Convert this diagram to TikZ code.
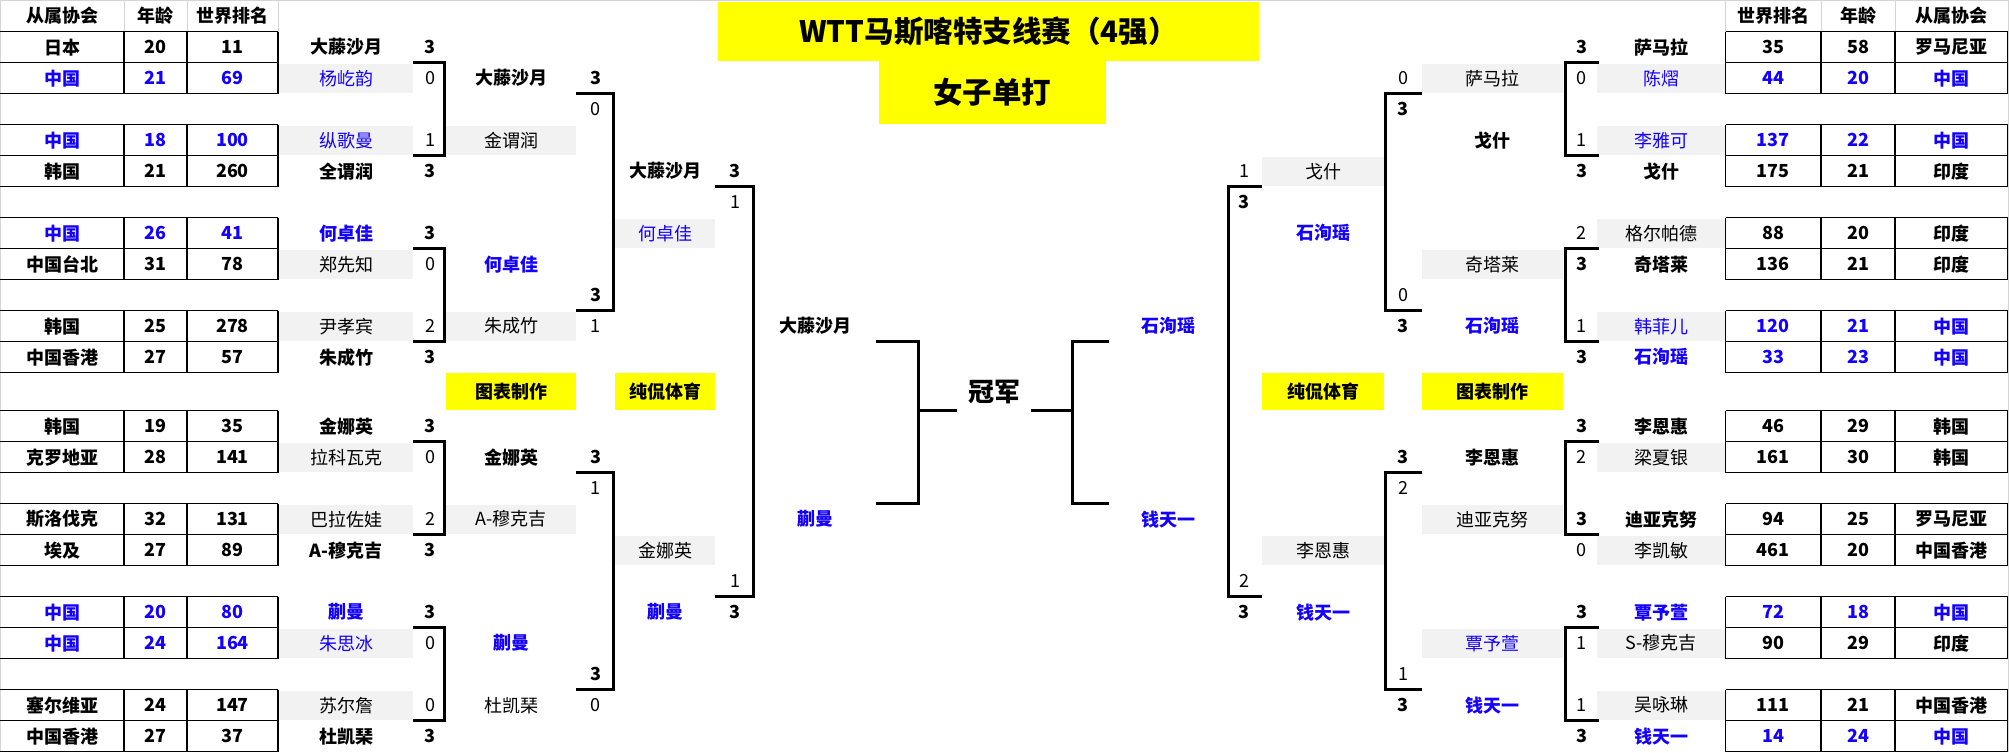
\documentclass[tikz,border=0pt]{standalone}
\usepackage{fontspec}
\setmainfont{Noto Sans CJK SC}
\definecolor{bluet}{RGB}{20,0,255}
\definecolor{cellgray}{RGB}{242,242,242}
\definecolor{yel}{RGB}{255,255,0}
\definecolor{gridc}{RGB}{212,212,212}
\pgfmathdeclarefunction{rt}{1}{\pgfmathparse{(#1<12.5)*((#1>0.5)*(0.7+31*#1)) + (#1>12.5)*(410.7+31*(#1-13))}}
\pgfmathdeclarefunction{rc}{1}{\pgfmathparse{(#1<0.5)*15.85 + and(#1>0.5,#1<11.5)*(16.2+31*#1) + (abs(#1-12)<0.5)*391.7 + (#1>12.5)*(426.2+31*(#1-13))}}
% column centres
\def\xLA{62}\def\xLB{155.5}\def\xLC{232.5}\def\xLD{346}\def\xLE{430}
\def\xLF{511}\def\xLG{595.7}\def\xLH{665}\def\xLI{735}\def\xLJ{815}
\def\xRA{1951.5}\def\xRB{1858}\def\xRC{1773.3}\def\xRD{1661.3}\def\xRE{1581.7}
\def\xRF{1492.5}\def\xRG{1403}\def\xRH{1323}\def\xRI{1244}\def\xRJ{1168}
% column widths for filled cells
\def\wLD{134}\def\wLF{130}\def\wLH{100}\def\wRD{128}\def\wRF{141}\def\wRH{122}
\tikzset{
  cellbase/.style={inner sep=0pt, anchor=center, font=\fontsize{18}{20}\selectfont},
  cb/.style={font=\fontsize{18}{20}\selectfont\bfseries, text=black},
  cbb/.style={font=\fontsize{18}{20}\selectfont\bfseries, text=bluet},
  cr/.style={text=black},
  crb/.style={text=bluet},
  brk/.style={line width=3pt, line join=miter, black},
  tbl/.style={line width=1.3pt, black},
  gridline/.style={line width=1pt, gridc},
  bigt/.style={inner sep=0pt, fill=yel, font=\fontsize{29.5}{31}\selectfont\bfseries},
}
\newcommand\mkT[4]{\node[cellbase,#3] (#1-#2) at (\csname x#1\endcsname,{rc(#2)}) {#4};}
\newcommand\mkG[4]{\node[cellbase,fill=cellgray,minimum width=\csname w#1\endcsname pt,minimum height=29pt,#3] (#1-#2) at (\csname x#1\endcsname,{rc(#2)}) {#4};}
\newcommand\mkY[3]{\node[cellbase,cb,fill=yel,minimum width=\csname w#1\endcsname pt,minimum height=37pt] (#1-#2) at (\csname x#1\endcsname,{rc(#2)}) {#3};}
\newcommand\mkBr[4]{\draw[brk] (#1,{rt(#3)}) -- (#2,{rt(#3)}) -- (#2,{rt(#4)}) -- (#1,{rt(#4)});}
\newcommand\tblL[1]{%
  \foreach \k in {0,1,2} {\draw[tbl] (0,{rt(#1+\k)}) -- (278,{rt(#1+\k)});}
  \foreach \xx in {124,187,278} {\draw[tbl] (\xx,{rt(#1)}) -- (\xx,{rt(#1+2)});}}
\newcommand\tblR[1]{%
  \foreach \k in {0,1,2} {\draw[tbl] (1725.7,{rt(#1+\k)}) -- (2008,{rt(#1+\k)});}
  \foreach \xx in {1725.7,1821,1895,2007.3} {\draw[tbl] (\xx,{rt(#1)}) -- (\xx,{rt(#1+2)});}}
\begin{document}
\begin{tikzpicture}[x=1pt,y=-1pt]
\useasboundingbox (0,0) rectangle (2009,752);
\fill[white] (0,0) rectangle (2009,752);
% sheet grid remnants
\draw[gridline] (0.5,752) -- (0.5,0.5) -- (2008.5,0.5) -- (2008.5,752);
\foreach \xx in {124,187,278,1725.7,1821,1895} {\draw[gridline] (\xx,0) -- (\xx,31.7);}
% titles
\node[bigt, minimum width=541pt, minimum height=59.3pt] (title) at (988.5,31.35) {WTT马斯喀特支线赛（4强）};
\node[bigt, minimum width=226.7pt, minimum height=63.3pt] (subtitle) at (992.3,92.7) {女子单打};
\node[inner sep=0pt, font=\fontsize{26}{28}\selectfont\bfseries] (champ) at (994,391.7) {冠军};
% ---------- left half ----------
\mkT{LA}{0}{cb}{从属协会}\mkT{LB}{0}{cb}{年龄}\mkT{LC}{0}{cb}{世界排名}
\mkT{LA}{1}{cb}{日本}\mkT{LB}{1}{cb}{20}\mkT{LC}{1}{cb}{11}\mkT{LD}{1}{cb}{大藤沙月}\mkT{LE}{1}{cb}{3}
\mkT{LA}{2}{cbb}{中国}\mkT{LB}{2}{cbb}{21}\mkT{LC}{2}{cbb}{69}\mkG{LD}{2}{crb}{杨屹韵}\mkT{LE}{2}{cr}{0}\mkT{LF}{2}{cb}{大藤沙月}\mkT{LG}{2}{cb}{3}
\mkT{LG}{3}{cr}{0}
\mkT{LA}{4}{cbb}{中国}\mkT{LB}{4}{cbb}{18}\mkT{LC}{4}{cbb}{100}\mkG{LD}{4}{crb}{纵歌曼}\mkT{LE}{4}{cr}{1}\mkG{LF}{4}{cr}{金谓润}
\mkT{LA}{5}{cb}{韩国}\mkT{LB}{5}{cb}{21}\mkT{LC}{5}{cb}{260}\mkT{LD}{5}{cb}{全谓润}\mkT{LE}{5}{cb}{3}\mkT{LH}{5}{cb}{大藤沙月}\mkT{LI}{5}{cb}{3}
\mkT{LI}{6}{cr}{1}
\mkT{LA}{7}{cbb}{中国}\mkT{LB}{7}{cbb}{26}\mkT{LC}{7}{cbb}{41}\mkT{LD}{7}{cbb}{何卓佳}\mkT{LE}{7}{cb}{3}\mkG{LH}{7}{crb}{何卓佳}
\mkT{LA}{8}{cb}{中国台北}\mkT{LB}{8}{cb}{31}\mkT{LC}{8}{cb}{78}\mkG{LD}{8}{cr}{郑先知}\mkT{LE}{8}{cr}{0}\mkT{LF}{8}{cbb}{何卓佳}
\mkT{LG}{9}{cb}{3}
\mkT{LA}{10}{cb}{韩国}\mkT{LB}{10}{cb}{25}\mkT{LC}{10}{cb}{278}\mkG{LD}{10}{cr}{尹孝宾}\mkT{LE}{10}{cr}{2}\mkG{LF}{10}{cr}{朱成竹}\mkT{LG}{10}{cr}{1}\mkT{LJ}{10}{cb}{大藤沙月}
\mkT{LA}{11}{cb}{中国香港}\mkT{LB}{11}{cb}{27}\mkT{LC}{11}{cb}{57}\mkT{LD}{11}{cb}{朱成竹}\mkT{LE}{11}{cb}{3}
\mkY{LF}{12}{图表制作}\mkY{LH}{12}{纯侃体育}
\mkT{LA}{13}{cb}{韩国}\mkT{LB}{13}{cb}{19}\mkT{LC}{13}{cb}{35}\mkT{LD}{13}{cb}{金娜英}\mkT{LE}{13}{cb}{3}
\mkT{LA}{14}{cb}{克罗地亚}\mkT{LB}{14}{cb}{28}\mkT{LC}{14}{cb}{141}\mkG{LD}{14}{cr}{拉科瓦克}\mkT{LE}{14}{cr}{0}\mkT{LF}{14}{cb}{金娜英}\mkT{LG}{14}{cb}{3}
\mkT{LG}{15}{cr}{1}
\mkT{LA}{16}{cb}{斯洛伐克}\mkT{LB}{16}{cb}{32}\mkT{LC}{16}{cb}{131}\mkG{LD}{16}{cr}{巴拉佐娃}\mkT{LE}{16}{cr}{2}\mkG{LF}{16}{cr}{A-穆克吉}\mkT{LJ}{16}{cbb}{蒯曼}
\mkT{LA}{17}{cb}{埃及}\mkT{LB}{17}{cb}{27}\mkT{LC}{17}{cb}{89}\mkT{LD}{17}{cb}{A-穆克吉}\mkT{LE}{17}{cb}{3}\mkG{LH}{17}{cr}{金娜英}
\mkT{LI}{18}{cr}{1}
\mkT{LA}{19}{cbb}{中国}\mkT{LB}{19}{cbb}{20}\mkT{LC}{19}{cbb}{80}\mkT{LD}{19}{cbb}{蒯曼}\mkT{LE}{19}{cb}{3}\mkT{LH}{19}{cbb}{蒯曼}\mkT{LI}{19}{cb}{3}
\mkT{LA}{20}{cbb}{中国}\mkT{LB}{20}{cbb}{24}\mkT{LC}{20}{cbb}{164}\mkG{LD}{20}{crb}{朱思冰}\mkT{LE}{20}{cr}{0}\mkT{LF}{20}{cbb}{蒯曼}
\mkT{LG}{21}{cb}{3}
\mkT{LA}{22}{cb}{塞尔维亚}\mkT{LB}{22}{cb}{24}\mkT{LC}{22}{cb}{147}\mkG{LD}{22}{cr}{苏尔詹}\mkT{LE}{22}{cr}{0}\mkT{LF}{22}{cr}{杜凯琹}\mkT{LG}{22}{cr}{0}
\mkT{LA}{23}{cb}{中国香港}\mkT{LB}{23}{cb}{27}\mkT{LC}{23}{cb}{37}\mkT{LD}{23}{cb}{杜凯琹}\mkT{LE}{23}{cb}{3}
% ---------- right half ----------
\mkT{RC}{0}{cb}{世界排名}\mkT{RB}{0}{cb}{年龄}\mkT{RA}{0}{cb}{从属协会}
\mkT{RE}{1}{cb}{3}\mkT{RD}{1}{cb}{萨马拉}\mkT{RC}{1}{cb}{35}\mkT{RB}{1}{cb}{58}\mkT{RA}{1}{cb}{罗马尼亚}
\mkT{RE}{2}{cr}{0}\mkG{RD}{2}{crb}{陈熠}\mkT{RC}{2}{cbb}{44}\mkT{RB}{2}{cbb}{20}\mkT{RA}{2}{cbb}{中国}\mkG{RF}{2}{cr}{萨马拉}\mkT{RG}{2}{cr}{0}
\mkT{RG}{3}{cb}{3}
\mkT{RE}{4}{cr}{1}\mkG{RD}{4}{crb}{李雅可}\mkT{RC}{4}{cbb}{137}\mkT{RB}{4}{cbb}{22}\mkT{RA}{4}{cbb}{中国}\mkT{RF}{4}{cb}{戈什}
\mkT{RE}{5}{cb}{3}\mkT{RD}{5}{cb}{戈什}\mkT{RC}{5}{cb}{175}\mkT{RB}{5}{cb}{21}\mkT{RA}{5}{cb}{印度}\mkG{RH}{5}{cr}{戈什}\mkT{RI}{5}{cr}{1}
\mkT{RI}{6}{cb}{3}
\mkT{RE}{7}{cr}{2}\mkG{RD}{7}{cr}{格尔帕德}\mkT{RC}{7}{cb}{88}\mkT{RB}{7}{cb}{20}\mkT{RA}{7}{cb}{印度}\mkT{RH}{7}{cbb}{石洵瑶}
\mkT{RE}{8}{cb}{3}\mkT{RD}{8}{cb}{奇塔莱}\mkT{RC}{8}{cb}{136}\mkT{RB}{8}{cb}{21}\mkT{RA}{8}{cb}{印度}\mkG{RF}{8}{cr}{奇塔莱}
\mkT{RG}{9}{cr}{0}
\mkT{RE}{10}{cr}{1}\mkG{RD}{10}{crb}{韩菲儿}\mkT{RC}{10}{cbb}{120}\mkT{RB}{10}{cbb}{21}\mkT{RA}{10}{cbb}{中国}\mkT{RF}{10}{cbb}{石洵瑶}\mkT{RG}{10}{cb}{3}\mkT{RJ}{10}{cbb}{石洵瑶}
\mkT{RE}{11}{cb}{3}\mkT{RD}{11}{cbb}{石洵瑶}\mkT{RC}{11}{cbb}{33}\mkT{RB}{11}{cbb}{23}\mkT{RA}{11}{cbb}{中国}
\mkY{RF}{12}{图表制作}\mkY{RH}{12}{纯侃体育}
\mkT{RE}{13}{cb}{3}\mkT{RD}{13}{cb}{李恩惠}\mkT{RC}{13}{cb}{46}\mkT{RB}{13}{cb}{29}\mkT{RA}{13}{cb}{韩国}
\mkT{RE}{14}{cr}{2}\mkG{RD}{14}{cr}{梁夏银}\mkT{RC}{14}{cb}{161}\mkT{RB}{14}{cb}{30}\mkT{RA}{14}{cb}{韩国}\mkT{RF}{14}{cb}{李恩惠}\mkT{RG}{14}{cb}{3}
\mkT{RG}{15}{cr}{2}
\mkT{RE}{16}{cb}{3}\mkT{RD}{16}{cb}{迪亚克努}\mkT{RC}{16}{cb}{94}\mkT{RB}{16}{cb}{25}\mkT{RA}{16}{cb}{罗马尼亚}\mkG{RF}{16}{cr}{迪亚克努}\mkT{RJ}{16}{cbb}{钱天一}
\mkT{RE}{17}{cr}{0}\mkG{RD}{17}{cr}{李凯敏}\mkT{RC}{17}{cb}{461}\mkT{RB}{17}{cb}{20}\mkT{RA}{17}{cb}{中国香港}\mkG{RH}{17}{cr}{李恩惠}
\mkT{RI}{18}{cr}{2}
\mkT{RE}{19}{cb}{3}\mkT{RD}{19}{cbb}{覃予萱}\mkT{RC}{19}{cbb}{72}\mkT{RB}{19}{cbb}{18}\mkT{RA}{19}{cbb}{中国}\mkT{RH}{19}{cbb}{钱天一}\mkT{RI}{19}{cb}{3}
\mkT{RE}{20}{cr}{1}\mkG{RD}{20}{cr}{S-穆克吉}\mkT{RC}{20}{cb}{90}\mkT{RB}{20}{cb}{29}\mkT{RA}{20}{cb}{印度}\mkG{RF}{20}{crb}{覃予萱}
\mkT{RG}{21}{cr}{1}
\mkT{RE}{22}{cr}{1}\mkG{RD}{22}{cr}{吴咏琳}\mkT{RC}{22}{cb}{111}\mkT{RB}{22}{cb}{21}\mkT{RA}{22}{cb}{中国香港}\mkT{RF}{22}{cbb}{钱天一}\mkT{RG}{22}{cb}{3}
\mkT{RE}{23}{cb}{3}\mkT{RD}{23}{cbb}{钱天一}\mkT{RC}{23}{cbb}{14}\mkT{RB}{23}{cbb}{24}\mkT{RA}{23}{cbb}{中国}
% ---------- tables ----------
\foreach \r in {1,4,7,10,13,16,19,22} {\tblL{\r}\tblR{\r}}
% ---------- brackets ----------
\foreach \r in {2,8,14,20} {\mkBr{413}{444.5}{\r}{\r+3}\mkBr{1599}{1565}{\r}{\r+3}}
\foreach \r in {3,15} {\mkBr{576}{613}{\r}{\r+7}\mkBr{1422}{1385.7}{\r}{\r+7}}
\mkBr{715}{753}{6}{19}
\mkBr{1262}{1228}{6}{19}
\mkBr{876}{918}{11}{16}
\mkBr{1109}{1072}{11}{16}
\coordinate (finL) at (918,{rt(13)});
\coordinate (finLend) at (957,{rt(13)});
\coordinate (finR) at (1072,{rt(13)});
\coordinate (finRend) at (1031,{rt(13)});
\draw[brk] (finL) -- (finLend);
\draw[brk] (finR) -- (finRend);
\end{tikzpicture}
\end{document}
